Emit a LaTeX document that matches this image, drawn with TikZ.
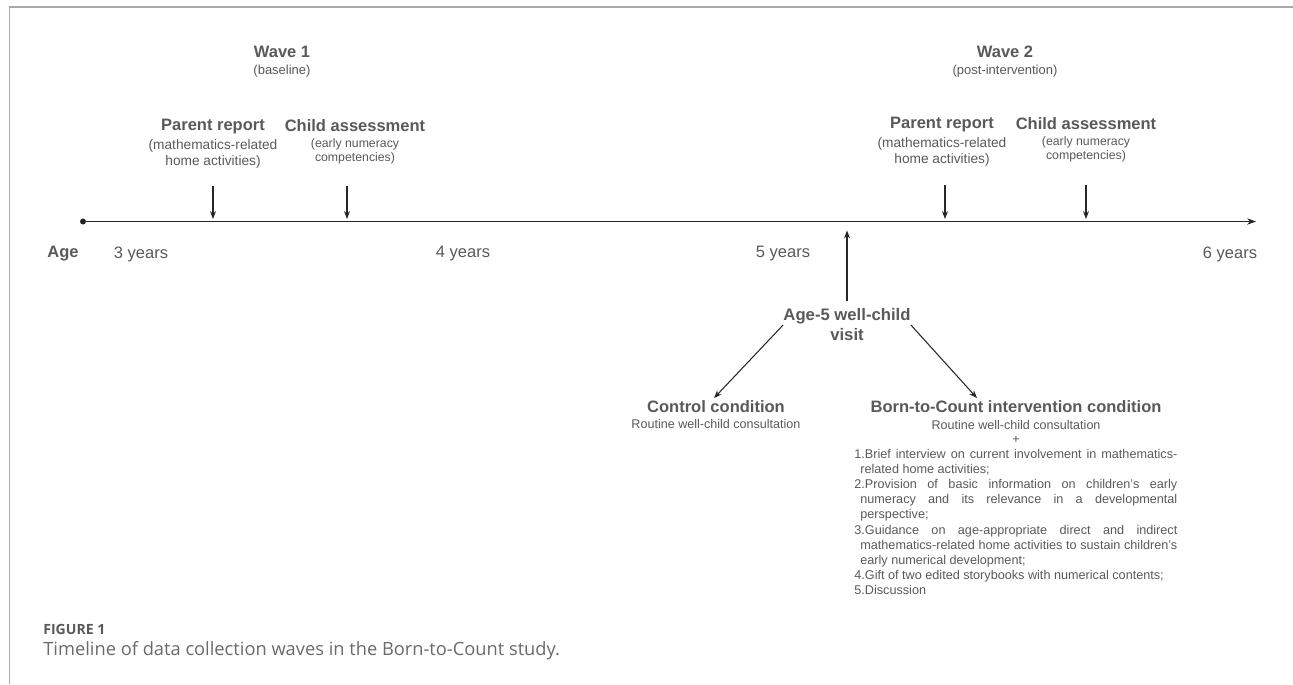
\documentclass[tikz,border=0pt]{standalone}
\usepackage{fontspec}
\setmainfont{Liberation Sans}
\newfontfamily\capfont{Open Sans}
\usetikzlibrary{arrows.meta}

\definecolor{txtgray}{HTML}{595959}
\definecolor{capgray}{HTML}{6A6A6A}
\definecolor{framegray}{HTML}{A8A8A8}

\tikzset{
	head/.style={font=\fontsize{9.4}{11.4}\selectfont\bfseries, text=txtgray, align=center, inner sep=0},
	note/.style={font=\fontsize{7.8}{9.1}\selectfont, text=txtgray, align=center, inner sep=0},
	notesm/.style={font=\fontsize{7}{8}\selectfont, text=txtgray, align=center, inner sep=0},
	agelbl/.style={font=\fontsize{9.4}{11}\selectfont, text=txtgray, inner sep=0},
	arr/.style={-{Stealth[length=4.5pt,width=3.4pt]}, line width=0.6pt, black!85},
}
\newcommand\bcitem[1]{\noindent\hangindent=0.12cm\hangafter=1 #1\par}

\begin{document}
\begin{tikzpicture}
		%%%%% START %%%%%
		\useasboundingbox (0, 0) rectangle (25.86, -13.68);
		
		% frame
		\draw[line width=0.9pt, framegray] (0.19, -13.68) -- (0.19, -0.14) -- (25.86, -0.14);
		
		% time axis
		\coordinate (t0) at (1.66, -4.43);
		\coordinate (t1) at (25.12, -4.43);
		\draw[-{Stealth[length=5pt,width=3.6pt]}, line width=0.8pt, black!85] (t0) -- (t1);
		\fill[black!85] (t0) circle (0.06);
		
		\node[agelbl, font=\fontsize{9.4}{11}\selectfont\bfseries] (age) at (1.26, -5.08) {Age};
		\node[agelbl] (y3) at (2.82, -5.08) {3 years};
		\node[agelbl] (y4) at (9.26, -5.08) {4 years};
		\node[agelbl] (y5) at (15.66, -5.08) {5 years};
		\node[agelbl] (y6) at (24.60, -5.08) {6 years};
		
		% wave 1
		\node[head] (w1) at (5.64, -1.04) {Wave 1};
		\node[note, font=\fontsize{7.4}{9}\selectfont] (w1s) at (5.64, -1.42) {(baseline)};
		\node[head] (pr1) at (4.26, -2.54) {Parent report};
		\node[note] (pr1s) at (4.26, -3.08) {(mathematics-related\\home activities)};
		\node[head] (ca1) at (7.10, -2.52) {Child assessment};
		\node[notesm] (ca1s) at (7.10, -3.02) {(early numeracy\\competencies)};
		
		% wave 2
		\node[head] (w2) at (20.10, -1.04) {Wave 2};
		\node[note, font=\fontsize{7.4}{9}\selectfont] (w2s) at (20.10, -1.42) {(post-intervention)};
		\node[head] (pr2) at (18.84, -2.50) {Parent report};
		\node[note] (pr2s) at (18.84, -3.04) {(mathematics-related\\home activities)};
		\node[head] (ca2) at (21.72, -2.48) {Child assessment};
		\node[notesm] (ca2s) at (21.72, -2.98) {(early numeracy\\competencies)};
		
		% measurement ticks
		\coordinate (pa) at (4.26, -3.72);
		\coordinate (pb) at (6.94, -3.72);
		\coordinate (pc) at (18.90, -3.70);
		\coordinate (pd) at (21.72, -3.70);
		\draw[arr] (pa) -- (4.26, -4.38);
		\draw[arr] (pb) -- (6.94, -4.38);
		\draw[arr] (pc) -- (18.90, -4.38);
		\draw[arr] (pd) -- (21.72, -4.38);
		
		% well-child visit
		\coordinate (m5) at (16.94, -4.43);
		\node[head, font=\fontsize{9.5}{11.4}\selectfont\bfseries] (visit) at (16.94, -6.50) {Age-5 well-child\\visit};
		\draw[arr, shorten <=0.16cm, shorten >=0.18cm] (visit.north) -- (m5);
		
		% control condition
		\node[head] (ctl) at (14.32, -8.14) {Control condition};
		\node[notesm, font=\fontsize{7.15}{8.6}\selectfont] (ctls) at (14.32, -8.48) {Routine well-child consultation};
		
		% intervention condition
		\node[head] (btc) at (20.32, -8.14) {Born-to-Count intervention condition};
		\node[notesm, font=\fontsize{7.15}{8.6}\selectfont] (btcs) at (20.32, -8.50) {Routine well-child consultation};
		\node[notesm, font=\fontsize{7.15}{8.6}\selectfont] (plus) at (20.32, -8.80) {+};
		\node[anchor=north west, inner sep=0, text width=6.46cm, align=justify, text=txtgray,
			font=\fontsize{7.2}{8.65}\selectfont] (list) at (17.08, -8.97) {%
			\tolerance=10000\emergencystretch=1em
			\bcitem{1.Brief interview on current involvement in mathematics-\linebreak related home activities;}
			\bcitem{2.Provision of basic information on children’s early\linebreak numeracy and its relevance in a developmental\linebreak perspective;}
			\bcitem{3.Guidance on age-appropriate direct and indirect\linebreak mathematics-related home activities to sustain children’s\linebreak early numerical development;}
			\bcitem{4.Gift of two edited storybooks with numerical contents;}
			\bcitem{5.Discussion}};
		
		\draw[arr] (visit.west) -- ([xshift=-0.04cm, yshift=0.05cm]ctl.north);
		\draw[arr] (visit.east) -- ([xshift=-0.78cm, yshift=0.05cm]btc.north);
		
		% caption
		\node[anchor=west, inner sep=0, text=txtgray, font=\capfont\bfseries\fontsize{8}{9}\selectfont] (fig) at (0.86, -12.58) {FIGURE 1};
		\node[anchor=west, inner sep=0, text=capgray, font=\capfont\fontsize{10.4}{12}\selectfont] (cap) at (0.86, -13.02) {Timeline of data collection waves in the Born-to-Count study.};
		
		%%%%% END %%%%%
\end{tikzpicture}
\end{document}
